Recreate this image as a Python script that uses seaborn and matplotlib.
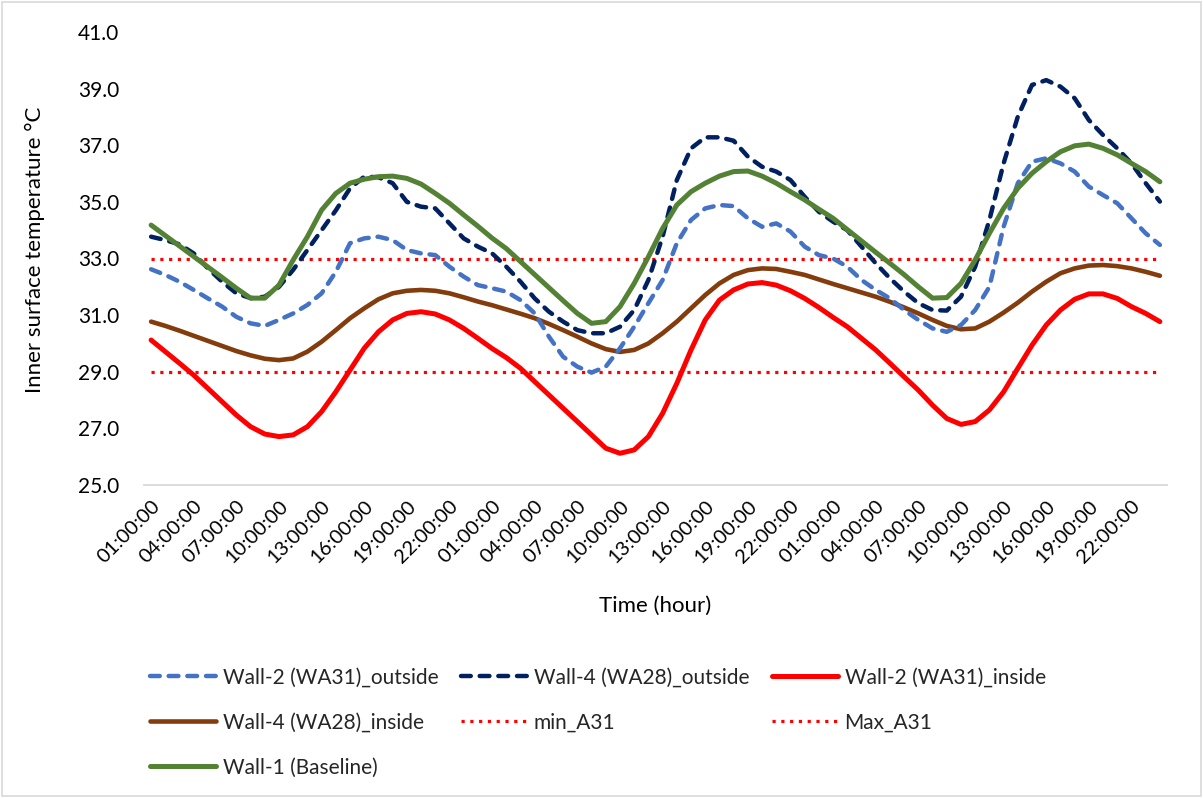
import numpy as np
import pandas as pd
import matplotlib
matplotlib.use("Agg")
import matplotlib.pyplot as plt
from matplotlib.patches import Rectangle
import seaborn as sns

# ---------------- data ----------------
hours = [f"{h % 24:02d}:00:00" for h in range(1, 25)]
time_labels = hours * 3

wall2_outside = [32.62, 32.42, 32.18, 31.89, 31.59, 31.30, 30.94, 30.71, 30.62, 30.83, 31.06, 31.36,
                 31.77, 32.53, 33.54, 33.71, 33.77, 33.65, 33.30, 33.18, 33.12, 32.71, 32.36, 32.06,
                 31.95, 31.83, 31.53, 31.06, 30.24, 29.53, 29.18, 28.97, 29.18, 29.83, 30.59, 31.42,
                 32.24, 33.54, 34.36, 34.77, 34.89, 34.85, 34.42, 34.12, 34.24, 33.95, 33.42, 33.12,
                 33.00, 32.71, 32.24, 31.89, 31.59, 31.18, 30.83, 30.53, 30.41, 30.65, 31.18, 32.00,
                 34.12, 35.66, 36.42, 36.54, 36.36, 36.07, 35.54, 35.24, 34.95, 34.42, 33.89, 33.48]
wall4_outside = [33.77, 33.65, 33.50, 33.18, 32.65, 32.18, 31.77, 31.60, 31.65, 32.00, 32.60, 33.30,
                 34.00, 34.70, 35.48, 35.89, 35.87, 35.66, 35.00, 34.83, 34.77, 34.24, 33.71, 33.42,
                 33.18, 32.71, 32.18, 31.59, 31.12, 30.77, 30.47, 30.36, 30.36, 30.59, 31.18, 32.24,
                 33.77, 35.77, 36.89, 37.28, 37.28, 37.16, 36.60, 36.24, 36.07, 35.77, 35.18, 34.65,
                 34.30, 34.00, 33.42, 32.83, 32.30, 31.83, 31.42, 31.18, 31.16, 31.65, 32.71, 34.36,
                 36.36, 38.01, 39.13, 39.30, 39.07, 38.66, 37.89, 37.36, 36.89, 36.36, 35.66, 35.01]
wall2_inside = [30.12, 29.71, 29.30, 28.88, 28.41, 27.94, 27.47, 27.06, 26.80, 26.71, 26.77, 27.06,
                27.59, 28.29, 29.06, 29.83, 30.41, 30.83, 31.06, 31.12, 31.04, 30.83, 30.53, 30.18,
                29.82, 29.50, 29.12, 28.65, 28.18, 27.71, 27.24, 26.77, 26.30, 26.12, 26.24, 26.71,
                27.53, 28.59, 29.77, 30.83, 31.53, 31.89, 32.10, 32.15, 32.06, 31.86, 31.59, 31.27,
                30.92, 30.59, 30.18, 29.77, 29.30, 28.82, 28.35, 27.82, 27.35, 27.14, 27.24, 27.65,
                28.29, 29.12, 29.94, 30.65, 31.18, 31.56, 31.75, 31.75, 31.59, 31.30, 31.06, 30.77]
wall4_inside = [30.77, 30.62, 30.45, 30.27, 30.09, 29.91, 29.73, 29.58, 29.46, 29.41, 29.47, 29.71,
                30.06, 30.47, 30.89, 31.24, 31.56, 31.77, 31.86, 31.89, 31.86, 31.77, 31.63, 31.48,
                31.35, 31.20, 31.05, 30.89, 30.69, 30.47, 30.24, 30.00, 29.80, 29.70, 29.77, 30.00,
                30.36, 30.77, 31.24, 31.71, 32.12, 32.42, 32.59, 32.65, 32.63, 32.53, 32.42, 32.26,
                32.10, 31.95, 31.80, 31.65, 31.47, 31.27, 31.06, 30.83, 30.62, 30.50, 30.53, 30.77,
                31.09, 31.44, 31.83, 32.18, 32.48, 32.65, 32.75, 32.77, 32.73, 32.65, 32.53, 32.39]
wall1_baseline = [34.18, 33.81, 33.44, 33.07, 32.70, 32.33, 31.95, 31.60, 31.60, 32.06, 32.95, 33.77,
                  34.71, 35.30, 35.66, 35.80, 35.89, 35.91, 35.83, 35.63, 35.30, 34.95, 34.54, 34.14,
                  33.72, 33.35, 32.89, 32.43, 31.97, 31.51, 31.06, 30.71, 30.77, 31.30, 32.12, 33.06,
                  34.06, 34.89, 35.36, 35.66, 35.91, 36.07, 36.09, 35.91, 35.66, 35.36, 35.07, 34.74,
                  34.42, 34.02, 33.62, 33.22, 32.83, 32.43, 32.00, 31.60, 31.62, 32.12, 32.95, 33.89,
                  34.77, 35.48, 36.01, 36.42, 36.77, 36.98, 37.04, 36.89, 36.66, 36.36, 36.07, 35.71]
min_a31_value = 29.0
max_a31_value = 33.0

y_ticks = [25.0, 27.0, 29.0, 31.0, 33.0, 35.0, 37.0, 39.0, 41.0]

# ---------------- style ----------------
sns.set_theme(style="white")
plt.rcParams["font.family"] = ["Lato", "DejaVu Sans"]
txt_color = "#000000"

fig = plt.figure(figsize=(12.03, 7.98), dpi=100)
W, H = 1203, 798
ax_left, ax_right, ax_top, ax_bottom = 144, 1167, 32, 485
ax = fig.add_axes([ax_left / W, 1 - ax_bottom / H, (ax_right - ax_left) / W, (ax_bottom - ax_top) / H])

n = len(time_labels)
idx = np.arange(n)
df = pd.DataFrame({
    "idx": idx,
    "Wall-2 (WA31)_outside": wall2_outside,
    "Wall-4 (WA28)_outside": wall4_outside,
    "Wall-2 (WA31)_inside": wall2_inside,
    "Wall-4 (WA28)_inside": wall4_inside,
    "min_A31": [min_a31_value] * n,
    "Max_A31": [max_a31_value] * n,
    "Wall-1 (Baseline)": wall1_baseline,
})

specs = [
    ("min_A31", "#FF0000", 2.3, (0, (1, 1.75)), "butt"),
    ("Max_A31", "#FF0000", 2.3, (0, (1, 1.75)), "butt"),
    ("Wall-4 (WA28)_inside", "#843C0C", 3.3, "-", "round"),
    ("Wall-2 (WA31)_inside", "#FF0000", 3.6, "-", "round"),
    ("Wall-2 (WA31)_outside", "#4472C4", 3.2, (0, (2.2, 2.0)), "round"),
    ("Wall-4 (WA28)_outside", "#002060", 3.2, (0, (2.2, 2.0)), "round"),
    ("Wall-1 (Baseline)", "#548235", 3.6, "-", "round"),
]
handles = {}
for name, color, lw, ls, cap in specs:
    sns.lineplot(data=df, x="idx", y=name, ax=ax, color=color, linewidth=lw, label=name)
    line = ax.get_lines()[-1]
    line.set_linestyle(ls)
    line.set_dash_capstyle(cap)
    line.set_solid_capstyle("round")
    line.set_solid_joinstyle("round")
    handles[name] = line

ax.set_xlim(-0.5, n - 0.5)
ax.set_ylim(25, 41)
ax.set_yticks(y_ticks)
ax.set_yticklabels([f"{v:.1f}" for v in y_ticks], fontsize=15, color=txt_color)
ax.tick_params(axis="y", length=0, pad=18)

ax.set_xticks(idx[::3])
ax.set_xticklabels(time_labels[::3], rotation=45, ha="right", rotation_mode="anchor",
                   fontsize=14.5, color=txt_color)
ax.tick_params(axis="x", length=0, pad=9)

for s in ["top", "right", "left"]:
    ax.spines[s].set_visible(False)
ax.spines["bottom"].set_color("#D9D9D9")
ax.spines["bottom"].set_linewidth(1.3)
ax.grid(False)

ax.set_xlabel("")
ax.set_ylabel("Inner surface temperature \u00b0C", fontsize=16, color=txt_color)
ax.yaxis.set_label_coords((45 - ax_left) / (ax_right - ax_left), 0.52)
fig.text(655 / W, 1 - 606 / H, "Time (hour)", ha="center", va="center", fontsize=16, color=txt_color)

order = ["Wall-2 (WA31)_outside", "Wall-4 (WA28)_inside", "Wall-1 (Baseline)",
         "Wall-4 (WA28)_outside", "min_A31",
         "Wall-2 (WA31)_inside", "Max_A31"]
ax.legend([handles[k] for k in order], order, ncol=3, loc="upper left",
          bbox_to_anchor=(131 / W, 1 - 649 / H), bbox_transform=fig.transFigure,
          frameon=False, fontsize=15, handlelength=3.2, handletextpad=0.3,
          columnspacing=1.08, labelspacing=1.2)

fig.add_artist(Rectangle((0.002, 0.002), 0.996, 0.996, transform=fig.transFigure,
                         fill=False, edgecolor="#D9D9D9", linewidth=1.2))

fig.savefig("out.png", dpi=100, facecolor="white")
